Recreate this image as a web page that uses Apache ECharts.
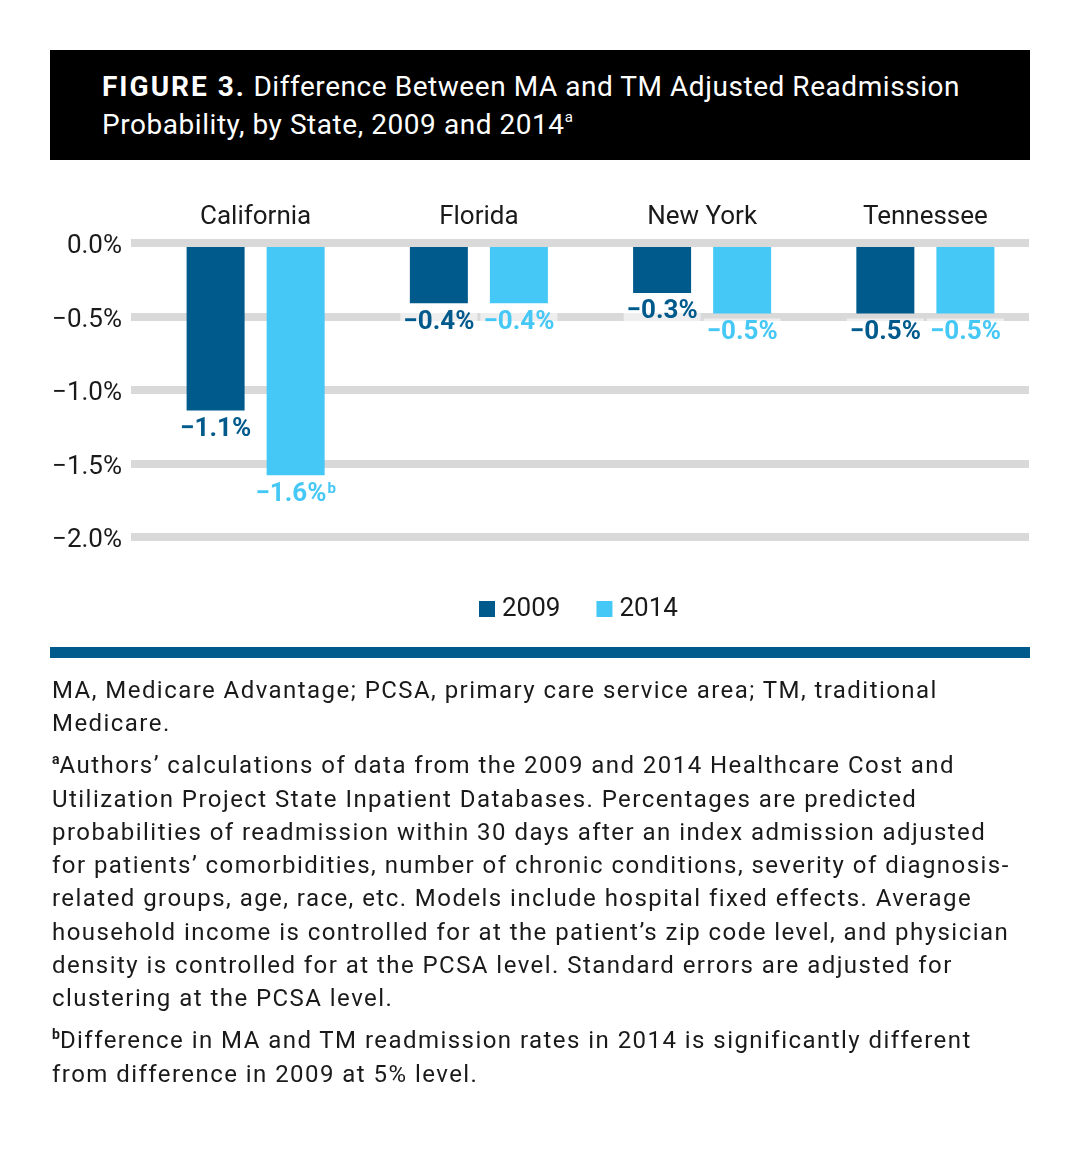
<!DOCTYPE html>
<html>
<head>
<meta charset="utf-8">
<script src="https://cdn.jsdelivr.net/npm/echarts@6/dist/echarts.min.js"></script>
<style>
  html, body { margin: 0; padding: 0; background: #fff; }
  body { width: 1081px; height: 1149px; position: relative; overflow: hidden; font-family: Roboto, "Noto Sans", sans-serif; color: #1a1a1a; }
  #chart { position: absolute; left: 0; top: 0; width: 1081px; height: 1149px; }
  #title { position: absolute; left: 50px; top: 50px; width: 980px; height: 110px; background: #000; color: #fff; box-sizing: border-box; padding: 18px 0 0 52px; font-size: 28px; line-height: 38px; white-space: nowrap; z-index: 2; letter-spacing: 0.55px; }
  #title b { letter-spacing: 2px; }
  #title sup { font-size: 15px; vertical-align: 12px; line-height: 0; }
  #rule { position: absolute; left: 50px; top: 647px; width: 980px; height: 11px; background: #005a8c; z-index: 2; }
  #notes { position: absolute; left: 52px; top: 674px; font-size: 24px; line-height: 33.3px; white-space: nowrap; z-index: 2; letter-spacing: 1.45px; }
  #notes p { margin: 0 0 8.7px 0; }
  #notes sup { font-size: 14px; font-weight: bold; vertical-align: 9px; line-height: 0; letter-spacing: 0; }
</style>
</head>
<body>
<div id="chart"></div>
<div id="title"><b>FIGURE 3.</b> Difference Between MA and TM Adjusted Readmission<br>Probability, by State, 2009 and 2014<sup>a</sup></div>
<div id="rule"></div>
<div id="notes">
<p>MA, Medicare Advantage; PCSA, primary care service area; TM, traditional<br>Medicare.</p>
<p><sup>a</sup>Authors’ calculations of data from the 2009 and 2014 Healthcare Cost and<br>Utilization Project State Inpatient Databases. Percentages are predicted<br>probabilities of readmission within 30 days after an index admission adjusted<br>for patients’ comorbidities, number of chronic conditions, severity of diagnosis-<br>related groups, age, race, etc. Models include hospital fixed effects. Average<br>household income is controlled for at the patient’s zip code level, and physician<br>density is controlled for at the PCSA level. Standard errors are adjusted for<br>clustering at the PCSA level.</p>
<p><sup>b</sup>Difference in MA and TM readmission rates in 2014 is significantly different<br>from difference in 2009 at 5% level.</p>
</div>
<script>
const categories = ['California', 'Florida', 'New York', 'Tennessee'];
const seriesNames = ['2009', '2014'];
const values2009 = [-1.14, -0.41, -0.34, -0.48];
const values2014 = [-1.58, -0.41, -0.48, -0.48];
const notes2014 = ['b', '', '', ''];
const notes2009 = ['', '', '', ''];
const yTicks = [0, -0.5, -1.0, -1.5, -2.0];

const colors = ['#005a8c', '#45c8f5'];
const FONT = 'Roboto, "Noto Sans", sans-serif';

function fmt(v) {
  const s = Math.abs(v).toFixed(1);
  return (v < 0 ? '\u2212' : '') + s + '%';
}

function makeSeries(name, vals, notes, color) {
  return {
    name: name,
    type: 'bar',
    xAxisIndex: 1,
    yAxisIndex: 1,
    barWidth: 58,
    barGap: '38%',
    itemStyle: { color: color },
    data: vals,
    z: 2,
    label: {
      show: true,
      position: 'bottom',
      distance: 5,
      color: color,
      fontFamily: FONT,
      fontWeight: 'bold',
      fontSize: 26,
      backgroundColor: 'rgba(255,255,255,0.55)',
      padding: [1, 3, 1, 3],
      formatter: function (p) {
        const n = notes[p.dataIndex];
        return fmt(p.value) + (n ? '{sup|' + n + '}' : '');
      },
      rich: {
        sup: { fontSize: 15, fontWeight: 'bold', color: color, verticalAlign: 'top', padding: [0, 0, 10, 1], fontFamily: FONT }
      }
    }
  };
}

const chart = echarts.init(document.getElementById('chart'), null, { renderer: 'canvas' });
chart.setOption({
  animation: false,
  backgroundColor: '#fff',
  textStyle: { fontFamily: FONT },
  grid: [
    { left: 131, right: 52, top: 243, height: 294 },
    { left: 144, width: 893, top: 243, height: 294 }
  ],
  xAxis: [
    {
      gridIndex: 0, type: 'category', data: categories, position: 'top', z: 10,
      axisLine: { show: true, lineStyle: { color: '#d9d9d9', width: 8, cap: 'butt' } },
      axisTick: { show: false }, axisLabel: { show: false }, splitLine: { show: false }
    },
    {
      gridIndex: 1, type: 'category', data: categories, position: 'top',
      axisLine: { show: false }, axisTick: { show: false },
      axisLabel: { show: true, fontSize: 26, color: '#1a1a1a', margin: 13, fontFamily: FONT }
    }
  ],
  yAxis: [
    {
      gridIndex: 0, type: 'value', min: -2, max: 0, interval: 0.5,
      axisLine: { show: false }, axisTick: { show: false },
      axisLabel: { fontSize: 26, color: '#1a1a1a', margin: 9, fontFamily: FONT,
        formatter: function (v) { return '{v|' + fmt(v) + '}'; },
        rich: { v: { fontSize: 26, color: '#1a1a1a', fontFamily: FONT, padding: [7, 0, 0, 0] } } },
      splitLine: { show: true, lineStyle: { color: '#d9d9d9', width: 8, cap: 'butt' } }
    },
    {
      gridIndex: 1, type: 'value', min: -2, max: 0, interval: 0.5, show: false,
      splitLine: { show: false }
    }
  ],
  legend: {
    data: seriesNames,
    top: 591,
    left: 474,
    icon: 'rect',
    itemWidth: 16,
    itemHeight: 16,
    itemGap: 36,
    textStyle: { fontSize: 26, color: '#1a1a1a', fontFamily: FONT, padding: [0, 0, 0, 2] }
  },
  series: [
    makeSeries(seriesNames[0], values2009, notes2009, colors[0]),
    makeSeries(seriesNames[1], values2014, notes2014, colors[1])
  ]
});
</script>
</body>
</html>
